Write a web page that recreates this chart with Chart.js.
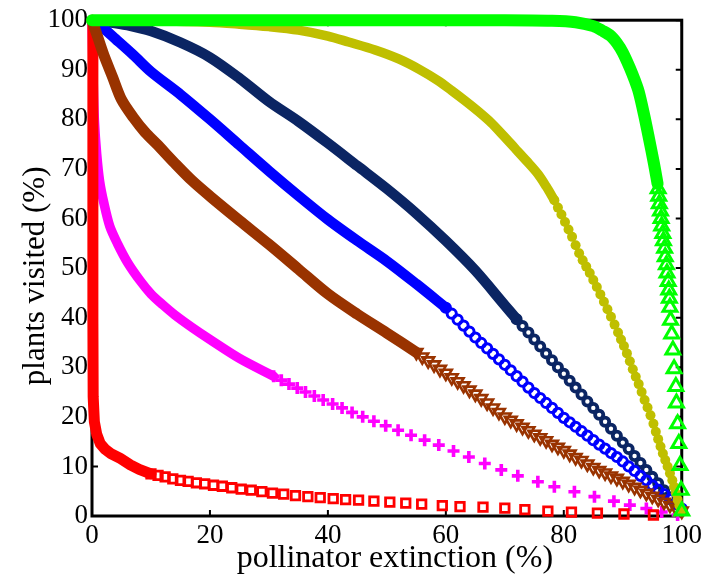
<!DOCTYPE html>
<html>
<head>
<meta charset="utf-8">
<script src="https://cdn.jsdelivr.net/npm/chart.js@4.4.1/dist/chart.umd.min.js"></script>
<style>
  html, body { margin: 0; padding: 0; background: #fff; }
  #wrap { width: 706px; height: 578px; }
</style>
</head>
<body>
<div id="wrap"><canvas id="chart" width="706" height="578"></canvas></div>
<script>
// values: [pollinator extinction %, plants visited %]
const xTicks = [0, 20, 40, 60, 80, 100];
const yTicks = [0, 10, 20, 30, 40, 50, 60, 70, 80, 90, 100];

// green (up triangles)
const greenLine = [[0,100],[40,100],[70,100],[78,99.9],[82,99.6],[85,98.8],[86.5,97.9],[88,96.8],[89,95.4],[90,93.5],[91.2,90.4],[92,88],[92.7,85.6],[93.6,81],[94.4,76.4],[95.3,71],[95.9,67]];
const greenMarks = [[96.0,66.0],[96.1,64.5],[96.2,63.0],[96.4,61.5],[96.5,60.0],[96.6,58.5],[96.8,57.0],[96.9,55.5],[97.1,54.0],[97.2,52.3],[97.4,50.7],[97.5,49.0],[97.7,47.3],[97.8,45.6],[97.9,43.9],[98.0,42.1],[98.1,39.5],[98.3,36.7],[98.5,33.5],[98.7,29.7],[99.0,26.1],[99.1,22.8],[99.3,18.6],[99.5,14.6],[99.7,10.2],[99.9,5.2],[100,1.0]];

// olive (filled dots)
const oliveLine = [[0,100],[10,99.9],[20,99.6],[25,99.2],[30,98.7],[35,98],[40,96.8],[43.5,95.6],[48,94],[52,92.2],[55.5,90.1],[58.7,87.8],[61,85.8],[63.2,83.8],[65.5,81.6],[67.7,79.3],[69.7,76.8],[71.7,74.2],[73.7,71.6],[75.6,69],[77,66.5],[78.4,63.7]];
const oliveMarks = [[78.4,63.7],[79.0,62.2],[79.6,60.8],[80.2,59.3],[80.8,57.8],[81.4,56.3],[82.0,54.6],[82.6,53.0],[83.2,51.6],[83.8,50.3],[84.4,49.0],[85.0,47.6],[85.6,46.2],[86.2,44.7],[86.8,43.2],[87.4,41.7],[88.0,40.2],[88.6,38.6],[89.2,37.0],[89.7,35.6],[90.2,34.3],[90.7,32.8],[91.2,31.2],[91.7,29.6],[92.2,28.1],[92.7,26.6],[93.2,25.0],[93.7,23.4],[94.2,21.9],[94.7,20.3],[95.2,18.6],[95.6,17.0],[96.0,15.5],[96.4,14.0],[96.8,12.6],[97.2,11.3],[97.6,10.0],[98.0,8.6],[98.4,7.2],[98.7,5.9],[99.0,4.6],[99.3,3.3],[99.6,2.1],[99.9,1.0]];

// brown (down triangles)
const brownLine = [[0,100],[1,96.5],[2,93],[3.5,88.5],[5,84],[7,80.4],[9,77.4],[11,75],[14,71.2],[17,67.6],[20,64.5],[25,59.6],[30,54.8],[35,49.8],[40,44.8],[45,40.7],[50,36.9],[55,33]];
const brownMarks = [[55,33.0],[56,32.1],[57,31.3],[58,30.5],[59,29.6],[60,28.8],[61,27.9],[62,27.1],[63,26.3],[64,25.4],[65,24.6],[66,23.7],[67,22.8],[68,21.8],[69,20.9],[70,20.0],[71,19.3],[72,18.6],[73,17.9],[74,17.2],[75,16.5],[76,15.8],[77,15.2],[78,14.5],[79,13.9],[80,13.2],[81,12.5],[82,11.8],[83,11.2],[84,10.5],[85,9.8],[86,9.2],[87,8.7],[88,8.1],[89,7.6],[90,7.0],[91,6.4],[92,5.8],[93,5.2],[94,4.6],[95,4.0],[96,3.4],[97,2.8],[98,2.2],[99,1.6],[100,1.0]];

// blue (open circles)
const blueLine = [[0,100],[2,98.3],[4,96.2],[7,93],[10,89.6],[15,85],[20,80],[25,74.8],[30,69.6],[35,64.6],[40,59.8],[45,55.5],[50,51.4],[55,46.8],[60,42]];
const blueMarks = [[60,42.0],[61,40.8],[62,39.6],[63,38.4],[64,37.2],[65,36.0],[66,34.9],[67,33.8],[68,32.7],[69,31.6],[70,30.5],[71,29.4],[72,28.2],[73,27.1],[74,25.9],[75,24.8],[76,23.8],[77,22.8],[78,21.8],[79,20.8],[80,19.8],[81,18.9],[82,18.0],[83,17.1],[84,16.2],[85,15.3],[86,14.4],[87,13.6],[88,12.7],[89,11.9],[90,11.0],[91,10.0],[92,9.1],[93,8.1],[94,7.2],[95,6.2],[96,5.3],[97,4.4],[98,3.4],[99,2.5],[100,1.5]];

// navy (open circles)
const navyLine = [[0,100],[3,99.6],[6,99],[10,97.8],[15,95.5],[20,92.5],[25,88.3],[30,83.6],[35,79.6],[40,75.2],[45,70.6],[50,66],[55,61],[60,55.5],[65,49.5],[70,42.5],[72,39.7]];
const navyMarks = [[72,39.7],[73,38.3],[74,37.0],[75,35.6],[76,34.2],[77,32.8],[78,31.4],[79,30.0],[80,28.7],[81,27.3],[82,25.9],[83,24.5],[84,23.1],[85,21.8],[86,20.4],[87,19.0],[88,17.6],[89,16.2],[90,14.8],[91,13.5],[92,12.1],[93,10.7],[94,9.3],[95,7.9],[96,6.6],[97,5.2],[98,3.8],[99,2.4],[100,1.0]];

// red (open squares)
const redLine = [[0.15,100],[0.15,40],[0.2,24],[0.4,19],[0.8,16.5],[1.4,14.6],[2.2,13.5],[3.2,12.6],[4.8,11.6],[6.5,10.3],[8,9.4],[10,8.5]];
const redMarks = [[10.0,8.5],[11.2,8.2],[12.4,7.9],[13.7,7.5],[15.0,7.2],[16.3,7.0],[17.7,6.7],[19.1,6.5],[20.6,6.2],[22.1,6.0],[23.7,5.7],[25.3,5.4],[27.0,5.2],[28.8,4.9],[30.6,4.6],[32.5,4.4],[34.5,4.1],[36.6,3.9],[38.7,3.7],[40.9,3.5],[43.0,3.3],[45.2,3.2],[47.8,3.0],[50.5,2.8],[53.2,2.6],[55.9,2.4],[59.4,2.1],[62.4,1.9],[66.3,1.8],[70.0,1.6],[73.4,1.3],[77.3,1.0],[81.3,0.8],[85.7,0.6],[90.2,0.4],[95.2,0.2]];

// magenta (plus signs)
const magentaLine = [[0,100],[0.2,88],[0.4,80],[0.8,73],[1.3,67.5],[2,63.2],[3,58.5],[4.3,55],[6,51.2],[8.2,47.4],[10,44.8],[12,42.6],[14,40.6],[17,38],[20,35.6],[25,31.8],[30.8,28.2]];
const magentaMarks = [[30.8,28.2],[32.1,27.4],[33.4,26.6],[34.8,25.8],[36.2,25.0],[37.7,24.2],[39.2,23.4],[40.8,22.6],[42.4,21.8],[44.1,20.9],[45.9,20.0],[47.8,19.1],[49.8,18.2],[51.9,17.3],[54.1,16.3],[56.4,15.3],[58.8,14.3],[61.3,13.1],[63.9,11.9],[66.6,10.6],[69.4,9.3],[72.2,8.1],[75.6,6.9],[78.4,5.9],[81.8,4.9],[85.2,3.9],[88.5,3.0],[91.2,2.2],[94.0,1.5],[96.6,0.8],[99.3,0.2]];

const serif = "'Liberation Serif', 'Times New Roman', serif";
const toXY = arr => arr.map(p => ({x: p[0], y: p[1]}));

function band(data, color, width, tension) {
  return {
    type: 'line', data: toXY(data), borderColor: color, borderWidth: width,
    pointRadius: 0, tension: tension, borderCapStyle: 'round', borderJoinStyle: 'round',
    fill: false, clip: false
  };
}
function marks(data, style, color, opts) {
  return Object.assign({
    type: 'scatter', data: toXY(data), pointStyle: style, showLine: false,
    pointBorderColor: color, pointBackgroundColor: 'rgba(0,0,0,0)', clip: false
  }, opts);
}

// axis box and inward ticks, drawn under the data like the original
const frame = {
  id: 'frame',
  beforeDatasetsDraw(chart) {
    const {ctx, chartArea: a, scales} = chart;
    const len = 6;
    ctx.save();
    ctx.strokeStyle = '#000';
    ctx.lineWidth = 2;
    ctx.beginPath();
    xTicks.forEach(v => {
      const px = scales.x.getPixelForValue(v);
      ctx.moveTo(px, a.bottom); ctx.lineTo(px, a.bottom - len);
      ctx.moveTo(px, a.top); ctx.lineTo(px, a.top + len);
    });
    yTicks.forEach(v => {
      const py = scales.y.getPixelForValue(v);
      ctx.moveTo(a.left, py); ctx.lineTo(a.left + len, py);
      ctx.moveTo(a.right, py); ctx.lineTo(a.right - len, py);
    });
    ctx.stroke();
    ctx.lineWidth = 3;
    ctx.strokeRect(a.left, a.top, a.right - a.left, a.bottom - a.top);
    ctx.restore();
  }
};

const ctx = document.getElementById('chart').getContext('2d');
const chart = new Chart(ctx, {
  data: {
    // first dataset is painted on top
    datasets: [
      band(greenLine, '#00ff00', 12, 0.3),
      marks(greenMarks, 'triangle', '#00ff00', {pointRadius: 8, pointBorderWidth: 3}),
      band(oliveLine, '#bfbf00', 9.5, 0.3),
      marks(oliveMarks, 'circle', '#bfbf00', {pointRadius: 5, pointBorderWidth: 0, pointBackgroundColor: '#bfbf00'}),
      band(brownLine, '#993300', 11, 0.3),
      marks(brownMarks, 'triangle', '#993300', {pointRadius: 6.8, pointBorderWidth: 2.6, pointRotation: 180}),
      band(blueLine, '#0000ff', 10.5, 0.3),
      marks(blueMarks, 'circle', '#0000ff', {pointRadius: 4.6, pointBorderWidth: 3}),
      band(navyLine, '#0b2563', 10.5, 0.3),
      marks(navyMarks, 'circle', '#0b2563', {pointRadius: 4.1, pointBorderWidth: 3.8}),
      band(redLine, '#ff0000', 11, 0),
      marks(redMarks, 'rect', '#ff0000', {pointRadius: 6, pointBorderWidth: 2.8}),
      band(magentaLine, '#ff00ff', 9.5, 0.3),
      marks(magentaMarks, 'cross', '#ff00ff', {pointRadius: 6, pointBorderWidth: 3.6})
    ]
  },
  options: {
    responsive: false,
    animation: false,
    events: [],
    layout: { padding: { top: 15, right: 21, left: 0, bottom: 0 } },
    plugins: { legend: { display: false }, tooltip: { enabled: false } },
    scales: {
      x: {
        type: 'linear', min: 0, max: 100,
        afterBuildTicks: s => { s.ticks = xTicks.map(v => ({value: v})); },
        ticks: { padding: 4, color: '#000', maxRotation: 0, font: { family: serif, size: 27 } },
        grid: { display: false, drawTicks: false },
        border: { display: false },
        // leading spaces nudge the label right, as in the original
        title: { display: true, text: '  pollinator extinction (%)', color: '#000',
                 font: { family: serif, size: 32 }, padding: { top: 0, bottom: 0 } },
        afterFit: s => { s.height = 62; }
      },
      y: {
        type: 'linear', min: 0, max: 100,
        afterBuildTicks: s => { s.ticks = yTicks.map(v => ({value: v})); },
        ticks: { padding: 4, color: '#000', font: { family: serif, size: 27 } },
        grid: { display: false, drawTicks: false },
        border: { display: false },
        title: { display: true, text: 'plants visited (%)  ', color: '#000',
                 font: { family: serif, size: 31 }, padding: { top: 17, bottom: 0 } },
        afterFit: s => { s.width = 92; }
      }
    }
  },
  plugins: [frame]
});
</script>
</body>
</html>
